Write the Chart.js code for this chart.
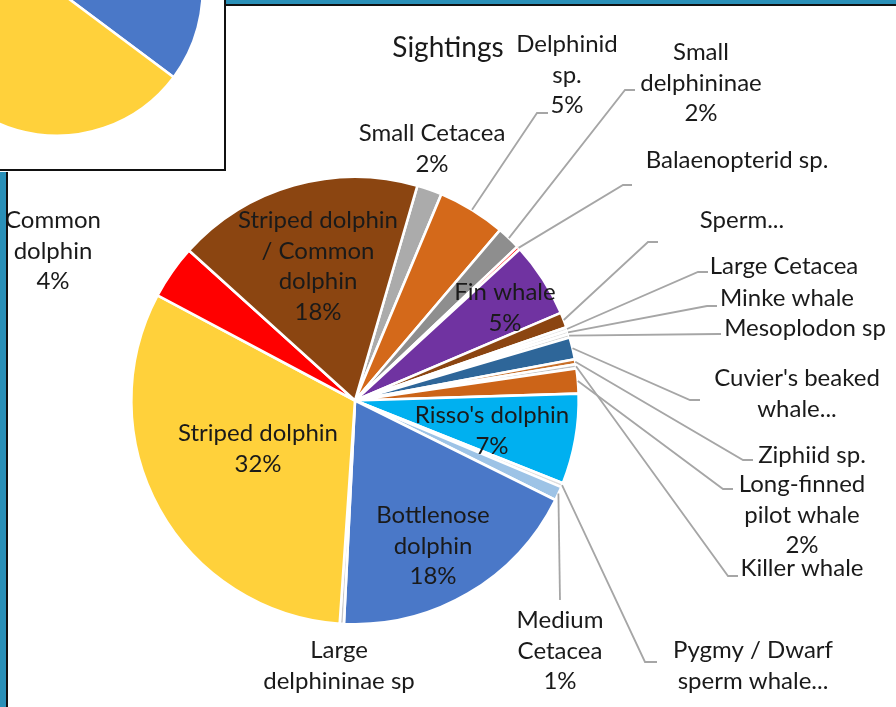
<!DOCTYPE html>
<html>
<head>
<meta charset="utf-8">
<script src="https://cdn.jsdelivr.net/npm/chart.js@4.4.0/dist/chart.umd.min.js"></script>
<style>
    html, body { margin: 0; padding: 0; background: #fff; }
    #wrap { position: relative; width: 896px; height: 707px; overflow: hidden; background: #fff; }
    #main { position: absolute; left: 0; top: 0; }
    .bar-top { position: absolute; left: 226px; top: 0; width: 670px; height: 4px; background: #2a90b8; border-bottom: 2px solid #111; }
    .bar-left { position: absolute; left: 0; top: 172px; width: 6px; height: 535px; background: #2a90b8; border-right: 2px solid #111; }
    #inset { position: absolute; left: 0; top: 0; width: 224px; height: 169px; background: #fff; border-right: 2px solid #111; border-bottom: 2px solid #111; overflow: hidden; }
    #insetChart { position: absolute; left: -100px; top: -167px; }
</style>
</head>
<body>
<div id="wrap">
    <canvas id="main" width="896" height="707"></canvas>
    <div class="bar-top"></div>
    <div class="bar-left"></div>
    <div id="inset"><canvas id="insetChart" width="314" height="314"></canvas></div>
</div>
<script>
const chartTitle = 'Sightings';

// slices, clockwise from the top-right
const species = [
    'Small Cetacea', 'Delphinid sp.', 'Small delphininae', 'Balaenopterid sp.', 'Fin whale',
    'Sperm whale', 'Large Cetacea', 'Minke whale', 'Mesoplodon sp', "Cuvier's beaked whale",
    'Ziphiid sp.', 'Killer whale', 'Long-finned pilot whale', "Risso's dolphin",
    'Pygmy / Dwarf sperm whale', 'Medium Cetacea', 'Bottlenose dolphin', 'Large delphininae sp',
    'Striped dolphin', 'Common dolphin', 'Striped dolphin / Common dolphin'
];
const sightingShare = [
    1.8, 4.9, 1.7, 0.25, 5.4,
    1.1, 0.25, 0.25, 0.25, 1.6,
    0.35, 0.3, 1.8, 6.5,
    0.3, 1.0, 18.4, 0.3,
    31.6, 3.9, 17.75
];
// label text as it is wrapped / cut in the chart
const labelLines = [
    ['Small Cetacea'], ['Delphinid', 'sp.'], ['Small', 'delphininae'], ['Balaenopterid sp.'], ['Fin whale'],
    ['Sperm...'], ['Large Cetacea'], ['Minke whale'], ['Mesoplodon sp'], ["Cuvier's beaked", 'whale...'],
    ['Ziphiid sp.'], ['Killer whale'], ['Long-finned', 'pilot whale'], ["Risso's dolphin"],
    ['Pygmy / Dwarf', 'sperm whale...'], ['Medium', 'Cetacea'], ['Bottlenose', 'dolphin'], ['Large', 'delphininae sp'],
    ['Striped dolphin'], ['Common', 'dolphin'], ['Striped dolphin', '/ Common', 'dolphin']
];
const showPercent = [
    true, true, true, false, true,
    false, false, false, false, false,
    false, false, true, true,
    false, true, true, false,
    true, true, true
];
const sliceColors = [
    '#ababab', '#d4691a', '#8e8e8e', '#ff2020', '#7033a1',
    '#8b4511', '#e6e6e6', '#d9d9d9', '#cfcfcf', '#2e6699',
    '#c8702a', '#bfbfbf', '#cc6418', '#00b0f0',
    '#dedede', '#9dc3e6', '#4a78c8', '#c9c9c9',
    '#ffd13b', '#ff0000', '#8b4511'
];

// second (cropped) pie in the top-left box
const insetValues = [24.1, 38.4, 37.5];
const insetColors = ['#4a78c8', '#ffd13b', '#8b4511'];

// label placement: centre x, first line y, optional leader [elbow, end]
const labelLayout = [
    { x: 432, y: 133 },
    { x: 567, y: 44, leader: [[537, 113], [548, 113]] },
    { x: 701, y: 52, leader: [[625, 90], [635, 90]] },
    { x: 737, y: 160, leader: [[623, 185], [632, 185]] },
    { x: 505, y: 292 },
    { x: 742, y: 220, leader: [[648, 242], [658, 242]] },
    { x: 784, y: 266, leader: [[698, 272], [708, 272]] },
    { x: 787, y: 298, leader: [[707, 306], [717, 306]] },
    { x: 805, y: 328, leader: [[718, 334], [721, 334]] },
    { x: 797, y: 378, leader: [[690, 400], [700, 400]] },
    { x: 812, y: 455, leader: [[743, 460], [753, 460]] },
    { x: 802, y: 568, leader: [[728, 576], [738, 576]] },
    { x: 802, y: 484, leader: [[723, 489], [733, 489]] },
    { x: 492, y: 415 },
    { x: 753, y: 650, leader: [[645, 662], [657, 662]] },
    { x: 560, y: 620, leader: [[560, 600], [560, 600]] },
    { x: 433, y: 515 },
    { x: 339, y: 650 },
    { x: 258, y: 433 },
    { x: 53, y: 220 },
    { x: 318, y: 220 }
];

const labelFont = '24px Lato, "Open Sans", sans-serif';
const lineGap = 30.5;

const sliceLabels = {
    id: 'sliceLabels',
    afterDraw(chart) {
        const ctx = chart.ctx;
        const meta = chart.getDatasetMeta(0);
        const total = sightingShare.reduce((a, b) => a + b, 0);

        ctx.save();
        // leader lines
        ctx.strokeStyle = '#a6a6a6';
        ctx.lineWidth = 1.8;
        labelLayout.forEach((lay, i) => {
            if (!lay.leader) return;
            const p = meta.data[i].getProps(['x', 'y', 'startAngle', 'endAngle', 'outerRadius'], true);
            const mid = (p.startAngle + p.endAngle) / 2;
            ctx.beginPath();
            ctx.moveTo(p.x + Math.cos(mid) * p.outerRadius, p.y + Math.sin(mid) * p.outerRadius);
            ctx.lineTo(lay.leader[0][0], lay.leader[0][1]);
            ctx.lineTo(lay.leader[1][0], lay.leader[1][1]);
            ctx.stroke();
        });

        // title
        ctx.fillStyle = '#1a1a1a';
        ctx.textAlign = 'center';
        ctx.textBaseline = 'alphabetic';
        ctx.font = '28px Lato, "Open Sans", sans-serif';
        ctx.fillText(chartTitle, 448, 57);

        // labels
        ctx.font = labelFont;
        labelLayout.forEach((lay, i) => {
            const lines = labelLines[i].slice();
            if (showPercent[i]) {
                lines.push(Math.round(sightingShare[i] / total * 100) + '%');
            }
            lines.forEach((txt, k) => {
                ctx.fillText(txt, lay.x, lay.y + 8 + k * lineGap);
            });
        });
        ctx.restore();
    }
};

new Chart(document.getElementById('main'), {
    type: 'pie',
    data: {
        labels: species,
        datasets: [{
            data: sightingShare,
            backgroundColor: sliceColors,
            borderColor: '#ffffff',
            borderWidth: 2.6
        }]
    },
    options: {
        responsive: false,
        animation: false,
        devicePixelRatio: 1,
        rotation: 16.2,
        layout: { padding: { left: 130, right: 316, top: 175, bottom: 81 } },
        plugins: {
            legend: { display: false },
            tooltip: { enabled: false },
            title: { display: false }
        }
    },
    plugins: [sliceLabels]
});

new Chart(document.getElementById('insetChart'), {
    type: 'pie',
    data: {
        labels: ['Bottlenose dolphin', 'Striped dolphin', 'Other'],
        datasets: [{
            data: insetValues,
            backgroundColor: insetColors,
            borderColor: '#ffffff',
            borderWidth: 2.6
        }]
    },
    options: {
        responsive: false,
        animation: false,
        devicePixelRatio: 1,
        rotation: 40,
        layout: { padding: 10 },
        plugins: {
            legend: { display: false },
            tooltip: { enabled: false }
        }
    }
});
</script>
</body>
</html>
